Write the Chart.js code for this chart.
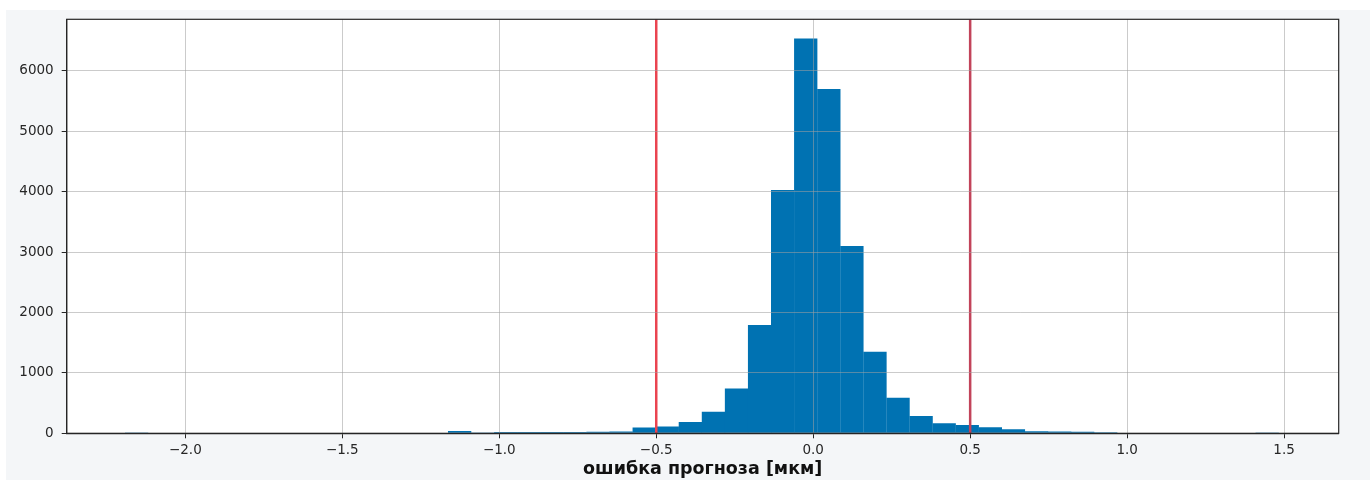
<!DOCTYPE html>
<html>
<head>
<meta charset="utf-8">
<script src="https://cdn.jsdelivr.net/npm/chart.js@4/dist/chart.umd.min.js"></script>
<style>
  html, body { margin: 0; padding: 0; background: #ffffff; }
  #wrap { position: absolute; left: 6px; top: 10px; width: 1364px; height: 470px; background: #f4f6f8; }
  canvas { display: block; }
</style>
</head>
<body>
<div id="wrap"><canvas id="c" width="1364" height="470"></canvas></div>
<script>
// Histogram bin centres (bin width ≈ 0.0735)
const binCenters = [
  -2.1553, -2.0818, -2.0083, -1.9348, -1.8613, -1.7878, -1.7143, -1.6408, -1.5673, -1.4938,
  -1.4203, -1.3468, -1.2733, -1.1998, -1.1263, -1.0528, -0.9793, -0.9058, -0.8323, -0.7588,
  -0.6853, -0.6118, -0.5383, -0.4648, -0.3913, -0.3178, -0.2443, -0.1708, -0.0973, -0.0238,
   0.0498,  0.1233,  0.1968,  0.2703,  0.3438,  0.4173,  0.4908,  0.5643,  0.6378,  0.7113,
   0.7848,  0.8583,  0.9318,  1.0053,  1.0788,  1.1523,  1.2258,  1.2993,  1.3728,  1.4463
];
const counts = [
  1, 0, 0, 0, 0, 0, 0, 0, 0, 0,
  0, 0, 0, 0, 40, 4, 22, 22, 20, 22,
  24, 28, 97, 112, 188, 358, 742, 1795, 4030, 6535,
  5700, 3100, 1350, 590, 286, 165, 138, 100, 66, 35,
  30, 25, 18, 10, 0, 0, 0, 0, 0, 1
];
const thresholds = [-0.5, 0.5];
const xTicks = [-2.0, -1.5, -1.0, -0.5, 0.0, 0.5, 1.0, 1.5];
const yTicks = [0, 1000, 2000, 3000, 4000, 5000, 6000];
const xMin = -2.378, xMax = 1.674, yMax = 6854;
const xTitle = 'ошибка прогноза [мкм]';

const histData = binCenters.map((x, i) => ({ x: x, y: counts[i] }));
const thresholdColors = ['#ea4450', '#c2435a'];
const thresholdSets = thresholds.map((t, i) => ({
  type: 'line',
  data: [{ x: t, y: 0 }, { x: t, y: yMax }],
  borderColor: thresholdColors[i],
  borderWidth: 2.5,
  pointRadius: 0,
  fill: false,
  order: 0
}));

const gridColor = 'rgba(160,160,160,0.55)';

const framePlugin = {
  id: 'frame',
  beforeDraw(chart) {
    const a = chart.chartArea, ctx = chart.ctx;
    ctx.save();
    ctx.fillStyle = '#ffffff';
    ctx.fillRect(a.left, a.top, a.right - a.left, a.bottom - a.top);
    ctx.restore();
  },
  afterDraw(chart) {
    const a = chart.chartArea, ctx = chart.ctx;
    ctx.save();
    ctx.strokeStyle = '#262626';
    ctx.lineWidth = 1.2;
    ctx.strokeRect(a.left, a.top, a.right - a.left, a.bottom - a.top);
    ctx.restore();
  }
};

const fmt = v => {
  const s = Math.abs(v).toFixed(1);
  return v < 0 ? '\u2212' + s : s;
};

new Chart(document.getElementById('c'), {
  type: 'bar',
  data: {
    datasets: [
      {
        type: 'bar',
        data: histData,
        backgroundColor: '#0072b2',
        borderWidth: 0,
        barPercentage: 1.01,
        categoryPercentage: 1.0,
        order: 1
      },
      ...thresholdSets
    ]
  },
  options: {
    responsive: false,
    animation: false,
    layout: { padding: { top: 9.3, right: 31.3, left: 0, bottom: 0 } },
    plugins: { legend: { display: false }, tooltip: { enabled: false } },
    scales: {
      x: {
        type: 'linear',
        min: xMin,
        max: xMax,
        offset: false,
        afterFit(scale) {
          scale.height = 46.7;
          scale.paddingLeft = 0; scale.paddingRight = 0;
          scale.paddingTop = 0; scale.paddingBottom = 0;
        },
        afterBuildTicks(scale) { scale.ticks = xTicks.map(v => ({ value: v })); },
        grid: {
          offset: false,
          color: ctx => (ctx.tick && thresholds.includes(ctx.tick.value)) ? 'rgba(0,0,0,0)' : gridColor,
          lineWidth: 1, tickLength: 5, tickColor: '#262626', z: 1
        },
        border: { display: true, color: '#262626', width: 1.2, z: 2 },
        ticks: {
          autoSkip: false,
          maxRotation: 0,
          padding: 4,
          color: '#262626',
          font: { family: 'DejaVu Sans', size: 13.5 },
          callback: v => fmt(v)
        },
        title: {
          display: true,
          text: xTitle,
          color: '#111111',
          font: { family: 'DejaVu Sans', size: 17.5, weight: 'bold' },
          padding: { top: 0, bottom: 0 }
        }
      },
      y: {
        type: 'linear',
        min: 0,
        max: yMax,
        afterFit(scale) {
          scale.width = 60.7;
          scale.paddingTop = 0; scale.paddingBottom = 0;
          scale.paddingLeft = 0; scale.paddingRight = 0;
        },
        afterBuildTicks(scale) { scale.ticks = yTicks.map(v => ({ value: v })); },
        grid: { color: gridColor, lineWidth: 1, tickLength: 5, tickColor: '#262626', z: 1 },
        border: { display: true, color: '#262626', width: 1.2, z: 2 },
        ticks: {
          padding: 8,
          color: '#262626',
          font: { family: 'DejaVu Sans', size: 13.5 },
          callback: v => String(v)
        }
      }
    }
  },
  plugins: [framePlugin]
});
</script>
</body>
</html>
